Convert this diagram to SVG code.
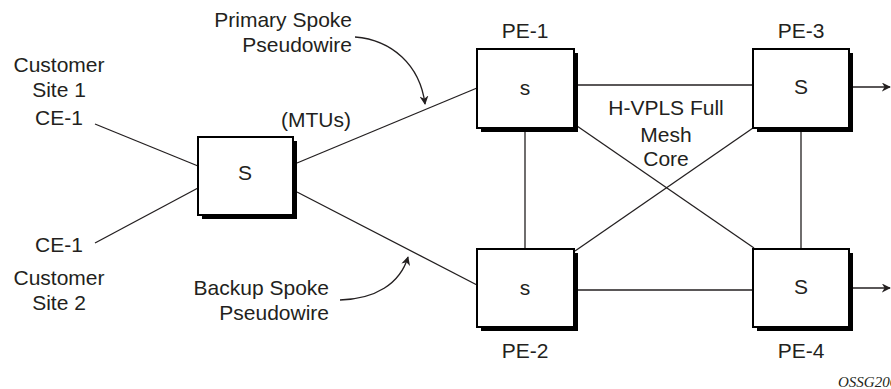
<svg xmlns="http://www.w3.org/2000/svg" width="891" height="389" viewBox="0 0 891 389">
<defs>
<marker id="ah" viewBox="0 0 10 10" refX="9" refY="5" markerWidth="9" markerHeight="9" markerUnits="userSpaceOnUse" orient="auto">
<path d="M0,0 L10,5 L0,10 L3,5 Z" fill="#231f20"/>
</marker>
<style>
.t{font-family:"Liberation Sans",Arial,sans-serif;font-size:21px;fill:#231f20}
.m{text-anchor:middle}
.e{text-anchor:end}
.ln{stroke:#231f20;stroke-width:1.3;fill:none}
.bx{fill:#fff;stroke:#000;stroke-width:2}
.sh{fill:#000}
</style>
</defs>
<rect width="891" height="389" fill="#fff"/>
<g id="connectors">
<line class="ln" x1="95" y1="124" x2="198" y2="166"/>
<line class="ln" x1="95" y1="243" x2="198" y2="188"/>
<line class="ln" x1="297" y1="163" x2="477" y2="88"/>
<line class="ln" x1="297" y1="192" x2="477" y2="285"/>
<line class="ln" x1="577" y1="85" x2="753" y2="85"/>
<line class="ln" x1="577" y1="290" x2="753" y2="290"/>
<line class="ln" x1="525" y1="131" x2="525" y2="249"/>
<line class="ln" x1="801" y1="131" x2="801" y2="249"/>
<line class="ln" x1="577" y1="126" x2="754" y2="248"/>
<line class="ln" x1="753" y1="128" x2="575" y2="251"/>
<line class="ln" x1="853" y1="87" x2="890" y2="87" marker-end="url(#ah)"/>
<line class="ln" x1="853" y1="288" x2="890" y2="288" marker-end="url(#ah)"/>
<path class="ln" d="M355,37 C392,40 420,65 425,104" marker-end="url(#ah)"/>
<path class="ln" d="M340,300 C375,299 400,284 408,257" marker-end="url(#ah)"/>
</g>
<g id="mtu">
<rect class="sh" x="202" y="141" width="95" height="78"/>
<rect class="bx" x="198" y="137" width="95" height="78"/>
<text class="t m" x="245" y="180">S</text>
</g>
<g id="pe1">
<rect class="sh" x="481" y="53" width="97" height="79"/>
<rect class="bx" x="477" y="49" width="97" height="79"/>
<text class="t m" x="525" y="95">s</text>
</g>
<g id="pe3">
<rect class="sh" x="757" y="53" width="96" height="79"/>
<rect class="bx" x="753" y="49" width="96" height="79"/>
<text class="t m" x="801" y="94">S</text>
</g>
<g id="pe2">
<rect class="sh" x="481" y="253" width="97" height="78"/>
<rect class="bx" x="477" y="249" width="97" height="78"/>
<text class="t m" x="525" y="295">s</text>
</g>
<g id="pe4">
<rect class="sh" x="757" y="253" width="96" height="78"/>
<rect class="bx" x="753" y="249" width="96" height="78"/>
<text class="t m" x="801" y="294">S</text>
</g>
<g id="labels">
<text class="t m" x="525" y="38">PE-1</text>
<text class="t m" x="801" y="38">PE-3</text>
<text class="t m" x="525" y="358">PE-2</text>
<text class="t m" x="801" y="358">PE-4</text>
<text class="t e" x="352" y="27">Primary Spoke</text>
<text class="t e" x="352" y="52">Pseudowire</text>
<text class="t m" x="59" y="72">Customer</text>
<text class="t m" x="59" y="97">Site 1</text>
<text class="t m" x="59" y="125">CE-1</text>
<text class="t m" x="316" y="127">(MTUs)</text>
<text class="t m" x="59" y="252">CE-1</text>
<text class="t m" x="59" y="285">Customer</text>
<text class="t m" x="59" y="310">Site 2</text>
<text class="t e" x="329" y="295">Backup Spoke</text>
<text class="t e" x="329" y="320">Pseudowire</text>
<text class="t m" x="666" y="115">H-VPLS Full</text>
<text class="t m" x="666" y="142">Mesh</text>
<text class="t m" x="666" y="166">Core</text>
<text x="838" y="387" style="font-family:'Liberation Serif','Times New Roman',serif;font-style:italic;font-size:15px;fill:#231f20">OSSG206</text>
</g>
</svg>
